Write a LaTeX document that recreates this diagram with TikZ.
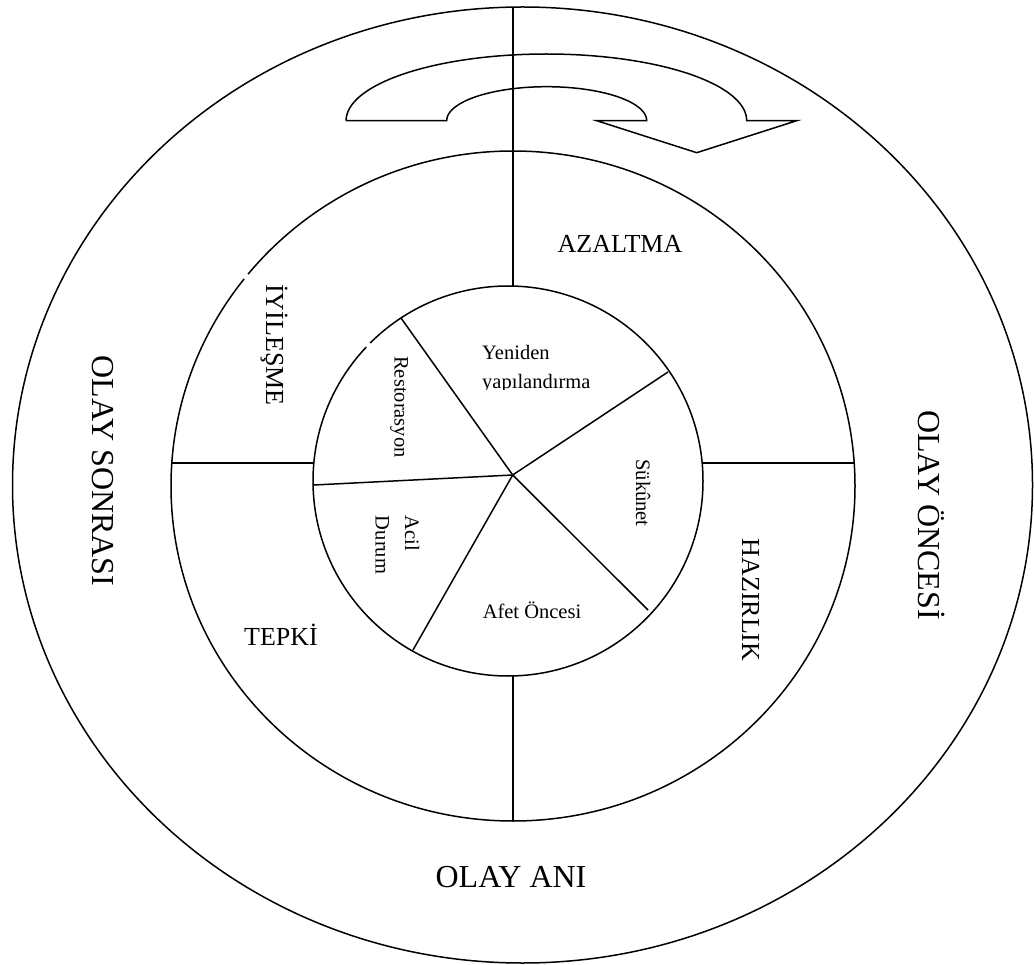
\documentclass[tikz,border=0pt]{standalone}
\usepackage{fontspec}
\setmainfont{Liberation Serif}
\begin{document}
\begin{tikzpicture}[x=1pt,y=1pt,
  ln/.style={line width=1.5pt},
  gap/.style={white, line width=4pt},
  big/.style={font=\fontsize{32}{38}\selectfont, inner sep=0pt},
  mid/.style={font=\fontsize{26}{31}\selectfont, inner sep=0pt},
  sml/.style={font=\fontsize{20.5}{29.5}\selectfont, inner sep=0pt},
  vert/.style={rotate=-90}]
\useasboundingbox (0,0) rectangle (1034,-965);
% rings
\draw[ln] (522.5,-485) ellipse [x radius=510pt, y radius=478pt];
\draw[ln] (513,-486) ellipse [x radius=342pt, y radius=335pt];
\draw[ln] (508,-481) circle [radius=195pt];
% small breaks in the rings
\draw[gap] (513,-486) ++(140.8:342pt and 335pt)
  arc[start angle=140.8, end angle=141.8, x radius=342pt, y radius=335pt];
\draw[gap] (508,-481) ++(135:195pt)
  arc[start angle=135, end angle=136.6, radius=195pt];
% named points
\coordinate (c) at (512.7,-475);
\coordinate (s1) at (401,-318);
\coordinate (s2) at (668,-372);
\coordinate (s3) at (648,-610);
\coordinate (s4) at (413,-650);
\coordinate (s5) at (314,-485);
\coordinate (topO) at (513,-7);
\coordinate (topI) at (513,-286);
\coordinate (botI) at (513,-676);
\coordinate (botM) at (513,-821);
\coordinate (lM) at (171,-463);
\coordinate (lI) at (314,-463);
\coordinate (rI) at (702,-463);
\coordinate (rM) at (854.5,-463);
% spokes and dividers
\foreach \p in {s1,s2,s3,s4,s5} \draw[ln] (c) -- (\p);
\draw[ln] (topO) -- (topI);
\draw[ln] (botI) -- (botM);
\draw[ln] (lM) -- (lI);
\draw[ln] (rI) -- (rM);
% cycle arrow
\draw[ln, line join=miter] (346,-120.7) -- (446.7,-120.7)
  -- plot[domain=180:0, samples=61] ({546.7+100*cos(\x)}, {-120.7+34*sin(\x)})
  -- (596.7,-120.7) -- (696.7,-152.7) -- (796.7,-120.7) -- (746.7,-120.7)
  -- plot[domain=0:180, samples=91] ({546.4+200.3*cos(\x)}, {-120.7+66.7*sin(\x)})
  -- cycle;
% outer labels
\node[big, vert, anchor=base] (sonrasi) at (92,-471) {OLAY SONRASI};
\node[big, vert, anchor=base] (oncesi) at (918,-515) {OLAY ÖNCESİ};
\node[big, anchor=base] (ani) at (511,-887) {OLAY ANI};
% middle labels
\node[mid, anchor=base] (azaltma) at (620,-253) {AZALTMA};
\node[mid, vert, anchor=base] (iyilesme) at (266,-345) {İYİLEŞME};
\node[mid, vert, anchor=base] (hazirlik) at (742,-600) {HAZIRLIK};
\node[mid, anchor=base] (tepki) at (281,-645) {TEPKİ};
% inner labels
\begin{scope}
  \clip (470,-330) rectangle (620,-389.5);
  \node[sml, align=left, anchor=north west] (yeniden) at (482,-345) {Yeniden\\yapılandırma};
\end{scope}
\node[sml, vert, anchor=base] (resto) at (394.5,-407) {Restorasyon};
\node[sml, vert, anchor=base] (sukunet) at (636,-493) {Sükûnet};
\node[sml, vert, align=left] (acil) at (397.5,-545) {Acil\\Durum};
\node[sml, anchor=base] (afet) at (532,-618) {Afet Öncesi};
\end{tikzpicture}
\end{document}
